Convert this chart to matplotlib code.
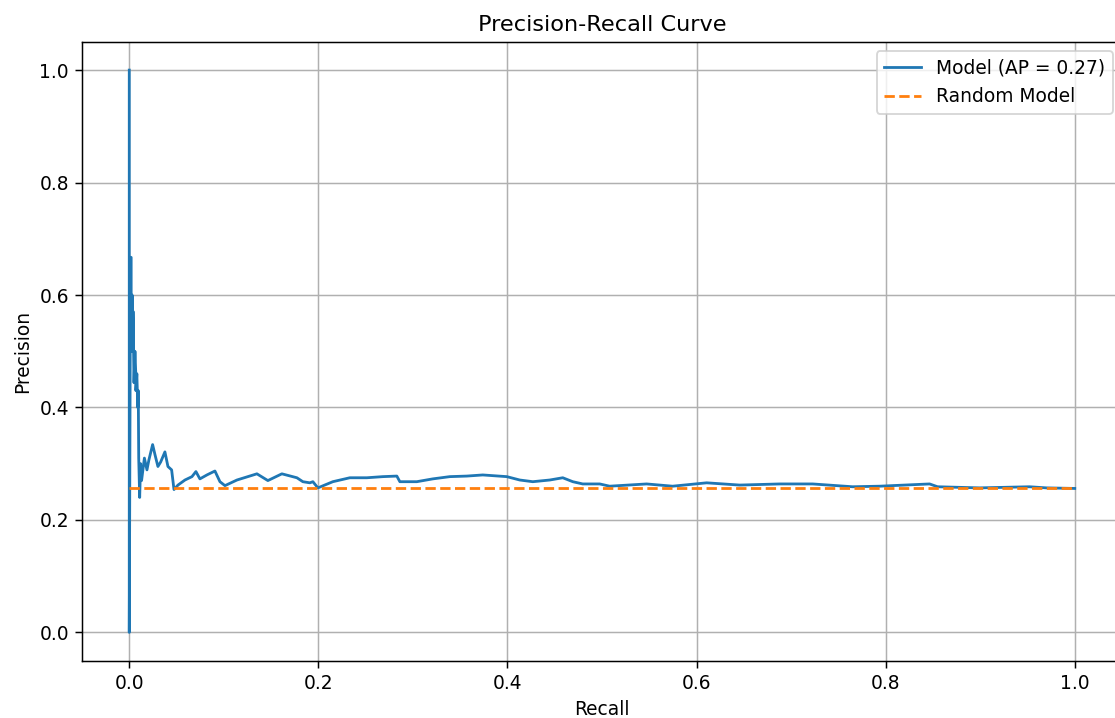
import matplotlib.pyplot as plt

# precision-recall points (recall ascending)
recall = [0.0, 0.0, 0.001, 0.001, 0.002, 0.002, 0.003, 0.004, 0.004, 0.005,
          0.006, 0.007, 0.007, 0.008, 0.009, 0.0095, 0.010, 0.011, 0.012, 0.013,
          0.016, 0.0187, 0.0208, 0.0247, 0.0272, 0.0303, 0.0332, 0.0377, 0.0409,
          0.0448, 0.0473, 0.0515, 0.0589, 0.0663, 0.0705, 0.0747, 0.0821, 0.0906,
          0.0959, 0.1012, 0.1139, 0.1350, 0.1466, 0.1614, 0.1773, 0.1836, 0.1910,
          0.1942, 0.1995, 0.2153, 0.2333, 0.2513, 0.2682, 0.2830, 0.2862, 0.3041,
          0.3210, 0.3390, 0.3570, 0.3739, 0.3993, 0.4130, 0.4268, 0.4448, 0.4585,
          0.4691, 0.4796, 0.4976, 0.5081, 0.5472, 0.5747, 0.6107, 0.6456, 0.6879,
          0.7228, 0.7650, 0.7936, 0.8465, 0.8549, 0.8993, 0.9521, 0.9701, 1.0]
precision = [1.0, 0.0, 0.5, 0.667, 0.667, 0.5, 0.6, 0.5, 0.571, 0.444,
             0.5, 0.455, 0.43, 0.46, 0.40, 0.43, 0.31, 0.24, 0.30, 0.27,
             0.31, 0.289, 0.307, 0.334, 0.316, 0.295, 0.303, 0.321, 0.295,
             0.289, 0.254, 0.262, 0.271, 0.277, 0.286, 0.273, 0.280, 0.287,
             0.268, 0.261, 0.271, 0.282, 0.270, 0.282, 0.275, 0.268, 0.266,
             0.268, 0.257, 0.268, 0.275, 0.275, 0.277, 0.278, 0.268, 0.268,
             0.273, 0.277, 0.278, 0.280, 0.277, 0.271, 0.268, 0.271, 0.275,
             0.268, 0.264, 0.264, 0.260, 0.264, 0.260, 0.266, 0.262, 0.264,
             0.264, 0.259, 0.260, 0.264, 0.259, 0.257, 0.259, 0.257, 0.256]
ap = 0.27
baseline = 0.257

dpi = 134
fig = plt.figure(figsize=(1115 / dpi, 718 / dpi), dpi=dpi)
ax = fig.add_axes([82 / 1115, 57.5 / 718, 1040 / 1115, 618.5 / 718])

ax.plot(recall, precision, label=f"Model (AP = {ap:.2f})")
ax.plot([0, 1], [baseline, baseline], linestyle="--", label="Random Model")
ax.set_xlabel("Recall")
ax.set_ylabel("Precision")
ax.set_title("Precision-Recall Curve")
ax.legend(loc="upper right")
ax.grid(True)

fig.savefig("out.png", dpi=dpi)
